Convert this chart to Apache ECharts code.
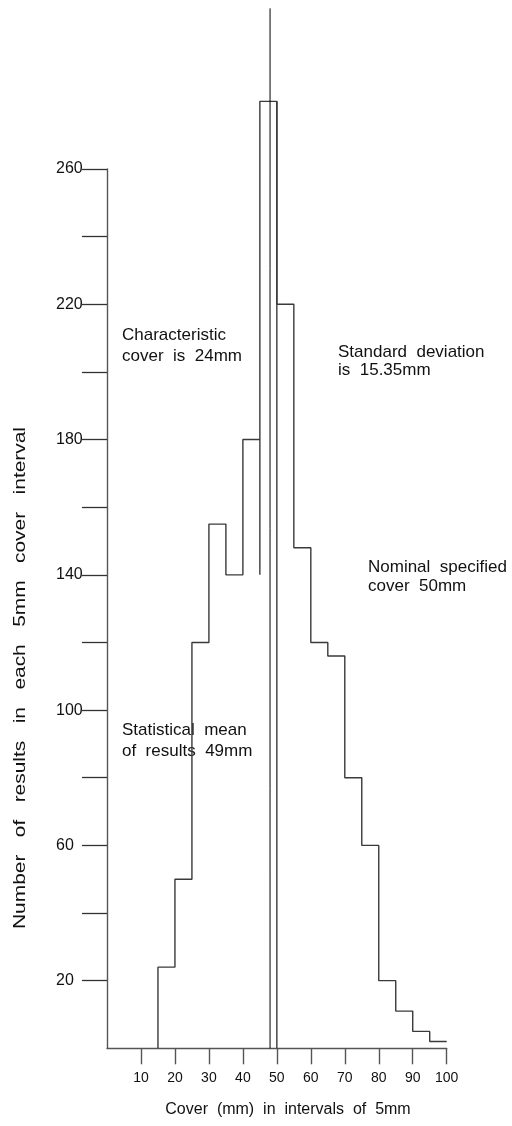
<!DOCTYPE html>
<html><head><meta charset="utf-8">
<script src="https://cdn.jsdelivr.net/npm/echarts@6/dist/echarts.min.js"></script>
<style>html,body{margin:0;padding:0;background:#fff}#c{width:512px;height:1126px}</style>
</head><body><div id="c"></div>
<script>
// Histogram bins (lower edge, mm) and counts
const binStarts = [15,20,25,30,35,40,45,50,55,60,65,70,75,80,85,90,95];
const binWidth = 5;
const counts = [24,50,120,155,140,180,280,220,148,120,116,80,60,20,11,5,2];
const xTicks = [10,20,30,40,50,60,70,80,90,100];
const yTicks = [20,40,60,80,100,120,140,160,180,200,220,240,260];
const yLabels = [20,60,100,140,180,220,260];
const meanLine = {x: 48, top: 307.5};
const nominalLine = {x: 50, top: 280};
const edge45Extra = {x: 45, from: 140, to: 180};

const FONT = "'Liberation Sans Narrow','Liberation Sans',sans-serif";

// build step outline from the data
const outline = [[binStarts[0], 0]];
for (let i = 0; i < counts.length; i++) {
  outline.push([binStarts[i], counts[i]]);
  outline.push([binStarts[i] + binWidth, counts[i]]);
}

const lineStyle = {color: '#3a3a3a', width: 1.4};
const txt = (x, y, s, size) => ({type: 'text', x: x, y: y, style: {text: s, font: (size || 17) + "px " + FONT, fill: '#111', textVerticalAlign: 'middle'}});
const chart = echarts.init(document.getElementById('c'), null, {renderer: 'canvas'});
chart.setOption({
  animation: false,
  backgroundColor: '#fff',
  grid: {left: 107, right: 65.3, top: 169, bottom: 77.7, containLabel: false},
  xAxis: {
    type: 'value', min: 0, max: 100, interval: 10,
    axisLine: {show: true, lineStyle: {color: '#555', width: 1.4}},
    axisTick: {show: true, inside: false, length: 16, customValues: xTicks, lineStyle: {color: '#555', width: 1.4}},
    axisLabel: {show: true, customValues: xTicks, margin: 23, fontFamily: FONT, fontSize: 14, color: '#111'},
    splitLine: {show: false}
  },
  yAxis: {
    type: 'value', min: 0, max: 260, interval: 20,
    axisLine: {show: true, lineStyle: {color: '#555', width: 1.4}},
    axisTick: {show: true, inside: false, length: 25, customValues: yTicks, lineStyle: {color: '#333', width: 1.3}},
    axisLabel: {show: true, customValues: yLabels, margin: 51, align: 'left', padding: [8, 0, 0, 0], fontFamily: FONT, fontSize: 16, color: '#111'},
    splitLine: {show: false}
  },
  series: [
    {type: 'line', data: outline, symbol: 'none', clip: false, lineStyle: lineStyle, silent: true},
    {type: 'line', data: [[edge45Extra.x, edge45Extra.from], [edge45Extra.x, edge45Extra.to]], symbol: 'none', clip: false, lineStyle: lineStyle},
    {type: 'line', data: [[nominalLine.x, 0], [nominalLine.x, nominalLine.top]], symbol: 'none', clip: false, lineStyle: lineStyle},
    {type: 'line', data: [[meanLine.x, 0], [meanLine.x, meanLine.top]], symbol: 'none', clip: false, lineStyle: {color: '#000', width: 1}}
  ],
  graphic: [
    {type: 'text', x: 288, y: 1110, style: {text: 'Cover  (mm)  in  intervals  of  5mm', font: "16px " + FONT, fill: '#111', textAlign: 'center', textVerticalAlign: 'middle'}},
    {type: 'text', x: 20, y: 678, rotation: Math.PI / 2, scaleX: 1.23, style: {text: 'Number   of   results   in   each   5mm   cover   interval', font: "17px " + FONT, fill: '#111', textAlign: 'center', textVerticalAlign: 'middle'}},
    txt(122, 335, 'Characteristic'),
    txt(122, 356, 'cover  is  24mm'),
    txt(338, 352, 'Standard  deviation'),
    txt(338, 370, 'is  15.35mm'),
    txt(368, 567, 'Nominal  specified'),
    txt(368, 586, 'cover  50mm'),
    txt(122, 730, 'Statistical  mean'),
    txt(122, 751, 'of  results  49mm')
  ]
});
</script></body></html>
